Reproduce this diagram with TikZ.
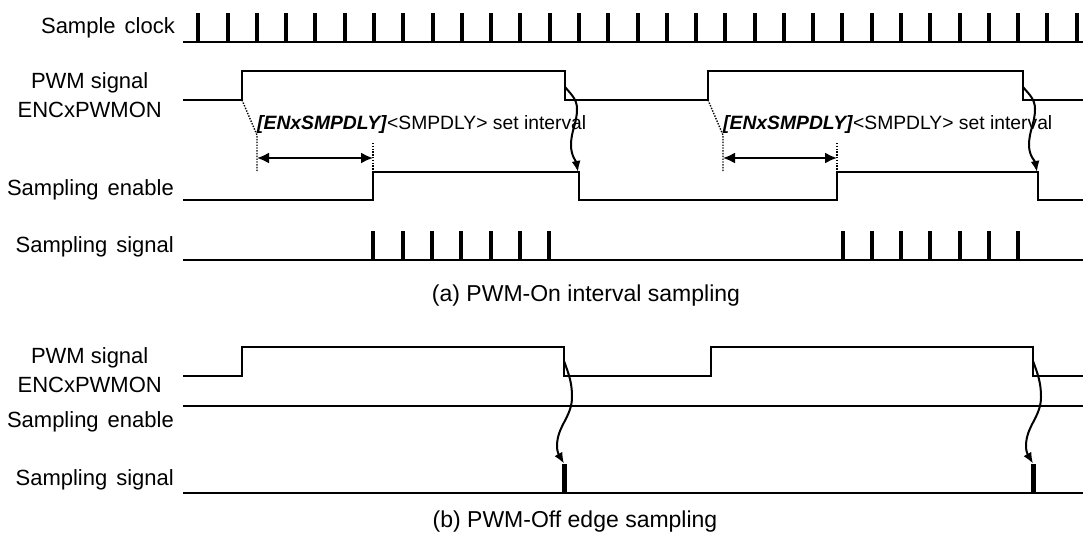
\documentclass[tikz,border=0pt]{standalone}
\usepackage{fontspec}
\setmainfont{Liberation Sans}
\usetikzlibrary{arrows.meta}
\begin{document}
\begin{tikzpicture}[x=1pt,y=-1pt,
	lb/.style={anchor=east,align=center,inner sep=0pt,font=\fontsize{22}{29}\selectfont},
	captn/.style={inner sep=0pt,font=\fontsize{23}{24}\selectfont},
	nt/.style={anchor=west,inner sep=0pt,font=\fontsize{19.3}{20}\selectfont},
	wv/.style={line width=2pt},
	pl/.style={line width=4pt},
	dt/.style={line width=1.4pt,dash pattern=on 1.4pt off 1.4pt},
	dm/.style={line width=2pt,{Latex[length=12pt,width=11pt]}-{Latex[length=12pt,width=11pt]}},
	cv/.style={line width=2pt,-{Latex[length=11pt,width=9pt]}}]
		\useasboundingbox (0,0) rectangle (1083,536);
		\node(lclk)[lb] at (175,28) {Sample\hspace{9pt}clock};
		\node(lpwma)[lb] at (162,95) {PWM signal\\ENCxPWMON};
		\node(lena)[lb] at (174,190) {Sampling\hspace{9pt}enable};
		\node(lsiga)[lb] at (174,247) {Sampling\hspace{9pt}signal};
		\node(capa)[captn] at (586,296) {(a) PWM-On interval sampling};
		\node(lpwmb)[lb] at (162,370.5) {PWM signal\\ENCxPWMON};
		\node(lenb)[lb] at (174,421.5) {Sampling\hspace{9pt}enable};
		\node(lsigb)[lb] at (174,480) {Sampling\hspace{9pt}signal};
		\node(capb)[captn] at (575,522) {(b) PWM-Off edge sampling};
		% (a)
		\draw[wv] (183,42) -- (1083,42);
		\foreach \k in {0,...,30}
			\draw[pl] ({198.3+29.28*\k},42) -- ++(0,-29);
		\draw[wv] (183,100) -- (242,100) -- (242,71) -- (565,71) -- (565,100) -- (708,100) -- (708,71) -- (1023,71) -- (1023,100) -- (1083,100);
		\draw[wv] (183,200) -- (373,200) -- (373,172) -- (579,172) -- (579,200) -- (837,200) -- (837,172) -- (1038,172) -- (1038,200) -- (1083,200);
		\draw[wv] (183,260) -- (1083,260);
		\foreach \k in {0,...,6} {
			\draw[pl] ({373.3+29.3*\k},260) -- ++(0,-29);
			\draw[pl] ({842.7+29.2*\k},260) -- ++(0,-29);
		}
		\foreach \r/\e/\f/\g/\n in {242/373/565/579/1,708/837/1023/1038/2} {
			\coordinate(rise\n) at (\r,100);
			\coordinate(dl\n) at ({\r+15},135);
			\coordinate(dlb\n) at ({\r+15},172);
			\coordinate(den\n) at (\e,143);
			\coordinate(en\n) at (\e,172);
			\draw[dt] (rise\n) -- (dl\n) -- (dlb\n);
			\draw[dt] (den\n) -- (en\n);
			\draw[dm] ({\r+15},158) -- (\e,158);
			\node(set\n)[nt] at ({\r+15},125) {\textbf{\textit{[ENxSMPDLY]}}<SMPDLY> set interval};
			\coordinate(pf\n) at (\f,87);
			\coordinate(ef\n) at ({\g-1},172);
			\draw[cv] (pf\n) to[out=-50,in=90] ({\f+12},109) to[out=-90,in=90] ({\f+6},145) to[out=-90,in=100] (ef\n);
		}
		% (b)
		\draw[wv] (183,376) -- (242,376) -- (242,347) -- (564,347) -- (564,376) -- (711,376) -- (711,347) -- (1033,347) -- (1033,376) -- (1083,376);
		\draw[wv] (183,406) -- (1083,406);
		\draw[wv] (183,493) -- (1083,493);
		\foreach \f/\n in {564/1,1033/2} {
			\node(sp\n)[inner sep=0pt,minimum width=5pt,minimum height=29pt,fill,anchor=south] at (\f,493) {};
			\coordinate(pb\n) at (\f,361);
			\draw[cv] (pb\n) to[out=-70,in=90] ({\f+8},397) to[out=-90,in=90] ({\f-7},446) to[out=-90,in=120] (sp\n.north);
		}
	\end{tikzpicture}
\end{document}
